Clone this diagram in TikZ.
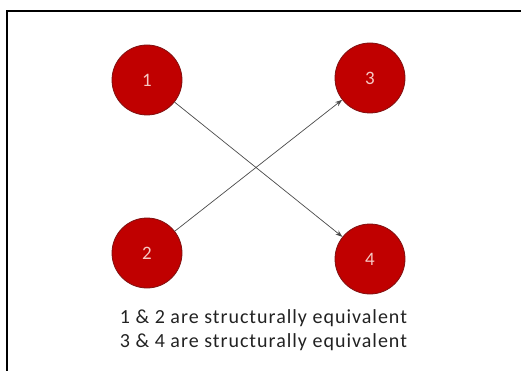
\documentclass[tikz,border=0pt]{standalone}
\usepackage{fontspec}
\setmainfont{Carlito}
\usetikzlibrary{arrows.meta}
\definecolor{nodered}{HTML}{C00000}
\definecolor{nodeedge}{HTML}{7F1010}
\definecolor{numcol}{HTML}{F6C9C4}
\definecolor{txtcol}{HTML}{222222}
\definecolor{linecol}{HTML}{4A4A4A}
\newfontfamily\capfont[LetterSpace=5]{Carlito}
\begin{document}
\begin{tikzpicture}[x=1pt,y=-1pt,
  actor/.style={circle,draw=nodeedge,line width=0.8pt,fill=nodered,minimum size=70pt,inner sep=0pt,text=numcol,font=\fontsize{19}{22}\selectfont},
  tie/.style={draw=linecol,line width=0.7pt,-{Stealth[length=7pt,width=5pt]}},
  caption/.style={text=txtcol,font=\capfont\fontsize{20}{23}\selectfont,align=center}]
\useasboundingbox (0,0) rectangle (521,371);
\draw[line width=2.4pt] (7,400) -- (7,11) -- (540,11);
\node[actor] (n1) at (147,80) {1};
\node[actor] (n2) at (147,253) {2};
\node[actor] (n3) at (370,78) {3};
\node[actor] (n4) at (370,259) {4};
\draw[tie] (n1) -- (n4);
\draw[tie] (n2) -- (n3);
\node[caption,anchor=base] (c1) at (263.5,323) {1 \& 2 are structurally equivalent};
\node[caption,anchor=base] (c2) at (263.5,347) {3 \& 4 are structurally equivalent};
\end{tikzpicture}
\end{document}
